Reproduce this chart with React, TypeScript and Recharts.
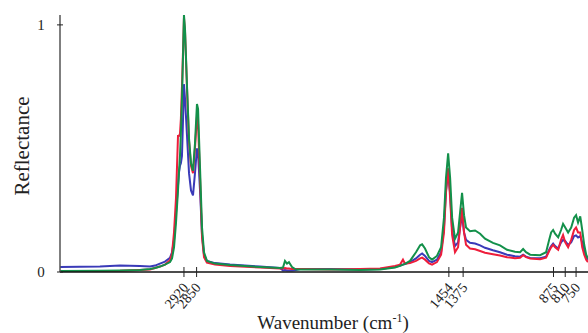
import React from 'react';
import { LineChart, Line, XAxis, YAxis } from 'recharts';

// wavenumber (cm-1) sampled along the spectrum, high -> low
const wavenumbers = [
  3606, 3385, 3274, 3164, 3108, 3080, 3053, 3025, 2997, 2986, 2975, 2964, 2953, 2948, 2942, 2937,
  2931, 2925, 2920, 2914, 2903, 2892, 2881, 2870, 2859, 2848, 2842, 2831, 2820, 2809, 2793, 2748,
  2665, 2499, 2389, 2372, 2361, 2350, 2339, 2322, 2300, 2278, 2112, 1946, 1835, 1752, 1724, 1708,
  1697, 1669, 1636, 1613, 1602, 1586, 1564, 1547, 1520, 1497, 1481, 1470, 1458, 1447, 1436, 1420,
  1403, 1392, 1381, 1370, 1359, 1337, 1309, 1281, 1254, 1210, 1171, 1132, 1088, 1060, 1043, 1027,
  1004, 949, 916, 899, 888, 877, 866, 849, 833, 822, 810, 794, 777, 761, 750, 739,
  727, 716, 705, 694, 684,
];

const greenSeries = [
  0.004, 0.005, 0.006, 0.008, 0.012, 0.016, 0.022, 0.03, 0.04, 0.055, 0.1, 0.2, 0.33, 0.4, 0.47, 0.56,
  0.7, 0.88, 1.04, 0.98, 0.75, 0.54, 0.44, 0.41, 0.52, 0.68, 0.66, 0.42, 0.18, 0.08, 0.045, 0.034,
  0.028, 0.02, 0.016, 0.018, 0.045, 0.034, 0.04, 0.02, 0.01, 0.01, 0.01, 0.008, 0.01, 0.018, 0.025, 0.03,
  0.033, 0.045, 0.08, 0.108, 0.112, 0.095, 0.06, 0.05, 0.065, 0.1, 0.22, 0.38, 0.48, 0.38, 0.22, 0.134,
  0.16, 0.24, 0.32, 0.23, 0.18, 0.165, 0.168, 0.155, 0.135, 0.118, 0.108, 0.09, 0.082, 0.08, 0.093, 0.08,
  0.07, 0.068, 0.08, 0.13, 0.16, 0.17, 0.155, 0.14, 0.17, 0.195, 0.18, 0.16, 0.18, 0.22, 0.23, 0.2,
  0.225, 0.17, 0.11, 0.07, 0.055,
];

const blueSeries = [
  0.02, 0.022, 0.026, 0.024, 0.022, 0.026, 0.034, 0.042, 0.058, 0.08, 0.13, 0.24, 0.35, 0.4, 0.43, 0.44,
  0.47, 0.62, 0.76, 0.7, 0.55, 0.4, 0.33, 0.31, 0.4, 0.5, 0.48, 0.33, 0.15, 0.07, 0.045, 0.036,
  0.03, 0.022, 0.016, 0.006, 0.008, 0.006, 0.006, 0.006, 0.008, 0.012, 0.012, 0.01, 0.012, 0.02, 0.026, 0.03,
  0.032, 0.04, 0.055, 0.07, 0.075, 0.065, 0.045, 0.04, 0.05, 0.08, 0.18, 0.33, 0.4, 0.32, 0.17, 0.105,
  0.12, 0.18, 0.23, 0.16, 0.13, 0.118, 0.115, 0.108, 0.098, 0.088, 0.08, 0.07, 0.064, 0.062, 0.07, 0.062,
  0.057, 0.056, 0.062, 0.09, 0.105, 0.115, 0.105, 0.095, 0.12, 0.13, 0.125, 0.11, 0.12, 0.145, 0.148, 0.14,
  0.145, 0.12, 0.09, 0.06, 0.05,
];

const redSeries = [
  0.003, 0.004, 0.005, 0.008, 0.01, 0.016, 0.022, 0.03, 0.048, 0.075, 0.16, 0.3, 0.55, 0.55, 0.56, 0.62,
  0.75, 0.9, 1.03, 0.97, 0.74, 0.53, 0.43, 0.4, 0.5, 0.63, 0.6, 0.38, 0.14, 0.06, 0.038, 0.03,
  0.024, 0.018, 0.014, 0.014, 0.016, 0.014, 0.014, 0.012, 0.012, 0.012, 0.01, 0.012, 0.014, 0.024, 0.03, 0.05,
  0.034, 0.036, 0.045, 0.055, 0.058, 0.05, 0.035, 0.03, 0.04, 0.07, 0.16, 0.32, 0.42, 0.3, 0.15, 0.08,
  0.1, 0.18, 0.26, 0.16, 0.11, 0.095, 0.092, 0.085, 0.078, 0.072, 0.067, 0.06, 0.056, 0.058, 0.068, 0.06,
  0.055, 0.052, 0.058, 0.085, 0.1, 0.11, 0.1, 0.09, 0.13, 0.15, 0.12, 0.1, 0.13, 0.17, 0.18, 0.16,
  0.16, 0.1, 0.07, 0.05, 0.04,
];

const xTicks = [2920, 2850, 1454, 1375, 875, 810, 750];
const yTicks = [0, 1];

const data = wavenumbers.map((wn, i) => ({
  wn,
  green: greenSeries[i],
  blue: blueSeries[i],
  red: redSeries[i],
}));

const serif = '"Liberation Serif", "Times New Roman", serif';

function XTick(props: any) {
  const { x, y, payload } = props;
  return (
    <g transform={`translate(${x},${y})`}>
      <line x1={0} y1={-5} x2={0} y2={5} stroke="#222" strokeWidth={1} />
      <g transform="translate(5,16) rotate(-50)">
        <text x={0} y={0} textAnchor="end" fontSize={14} fontFamily={serif} fill="#222">
          {payload.value}
        </text>
      </g>
    </g>
  );
}

function YTick(props: any) {
  const { x, y, payload } = props;
  return (
    <g>
      <line x1={x - 3} y1={y} x2={x + 3} y2={y} stroke="#222" strokeWidth={1} />
      <text x={x - 19} y={y + 5} textAnchor="middle" fontSize={15} fontFamily={serif} fill="#222">
        {payload.value}
      </text>
    </g>
  );
}

export default function App() {
  return (
    <div style={{ position: 'absolute', left: 0, top: 0, width: 588, height: 333, background: '#fff' }}>
      <LineChart width={588} height={333} data={data} margin={{ top: 15, right: 0, bottom: 6, left: 0 }}>
        <XAxis
          dataKey="wn"
          type="number"
          domain={[684, 3606]}
          reversed
          ticks={xTicks}
          interval={0}
          height={55}
          tickSize={0}
          tickMargin={0}
          tick={<XTick />}
          axisLine={{ stroke: '#111', strokeWidth: 1.5 }}
          tickLine={false}
          allowDataOverflow
        />
        <YAxis
          type="number"
          domain={[0, 1.04]}
          ticks={yTicks}
          width={60}
          tickSize={0}
          tickMargin={0}
          tick={<YTick />}
          axisLine={{ stroke: '#555', strokeWidth: 1.5 }}
          tickLine={false}
          allowDataOverflow
        />
        <Line dataKey="blue" type="linear" stroke="#3a3ab8" strokeWidth={2} dot={false} isAnimationActive={false} />
        <Line dataKey="red" type="linear" stroke="#ee1d3b" strokeWidth={2} dot={false} isAnimationActive={false} />
        <Line dataKey="green" type="linear" stroke="#13904a" strokeWidth={2} dot={false} isAnimationActive={false} />
      </LineChart>
      <div
        style={{
          position: 'absolute',
          left: 22,
          top: 146,
          transform: 'translate(-50%, -50%) rotate(-90deg)',
          fontFamily: serif,
          fontSize: 21,
          color: '#222',
          whiteSpace: 'nowrap',
        }}
      >
        Reflectance
      </div>
      <div
        style={{
          position: 'absolute',
          left: 333,
          top: 312,
          transform: 'translateX(-50%)',
          fontFamily: serif,
          fontSize: 19,
          color: '#222',
          whiteSpace: 'nowrap',
          lineHeight: '22px',
        }}
      >
        Wavenumber (cm<sup style={{ fontSize: 12, verticalAlign: 'top', lineHeight: '12px' }}>-1</sup>)
      </div>
    </div>
  );
}
